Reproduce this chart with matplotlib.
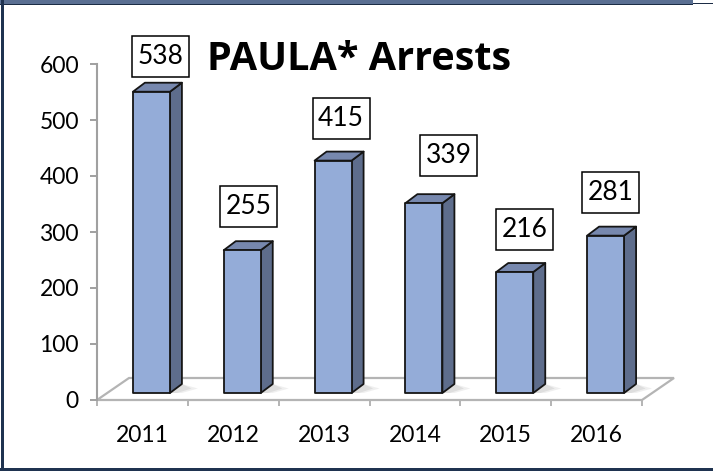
import matplotlib
matplotlib.use("Agg")
import matplotlib.pyplot as plt
from matplotlib.patches import Polygon, Rectangle

# ---- data ----
years = ["2011", "2012", "2013", "2014", "2015", "2016"]
arrests = [538, 255, 415, 339, 216, 281]
y_ticks = [0, 100, 200, 300, 400, 500, 600]
title = "PAULA* Arrests"

# ---- layout / style (pixels) ----
W, H, DPI = 713, 471, 100
FONT = ["Lato", "DejaVu Sans"]
FRONT, SIDE, TOP = "#94acd8", "#5e6d8c", "#7788ae"
EDGE = "#151515"
GRAY = "#a0a0a0"
floor_depth = (32, 22)     # px, floor back offset
bar_front = (9, 7)         # px, bar front-face offset from front plane
bar_depth = (12, 9)        # px, bar depth
bar_w_px = 37
box_w_px, box_h_px = 57, 41
label_nudge = [(9, 6), (6, 14), (8, 13), (25, 18), (10, 13), (5, 14)]  # (dx, gap) px

plt.rcParams["font.family"] = FONT
fig = plt.figure(figsize=(W / DPI, H / DPI), dpi=DPI)
fig.patch.set_facecolor("white")

ax_left, ax_right, ax_bot, ax_top = 97, 642, 400, 64
ax = fig.add_axes([ax_left / W, (H - ax_bot) / H, (ax_right - ax_left) / W, (ax_bot - ax_top) / H])
ax.set_xlim(-0.5, len(years) - 0.5)
ax.set_ylim(0, 600)
ax.patch.set_alpha(0)

# pixel -> data scale factors from the axes transform
p0 = ax.transData.transform((0, 0))
p1 = ax.transData.transform((1, 1))
sx, sy = p1[0] - p0[0], p1[1] - p0[1]
def d(px, py):
    return px / sx, py / sy

# floor
fdx, fdy = d(*floor_depth)
x0, x1 = -0.5, len(years) - 0.5
floor = Polygon([(x0, 0), (x1, 0), (x1 + fdx, fdy), (x0 + fdx, fdy)], closed=True,
                facecolor="white", edgecolor="#b4b4b4", lw=1.6, clip_on=False, zorder=1,
                joinstyle="miter")
ax.add_patch(floor)

fx, fy = d(*bar_front)
bx, by = d(*bar_depth)
hw = d(bar_w_px, 0)[0] / 2
bw_d, bh_d = d(box_w_px, box_h_px)

for i, v in enumerate(arrests):
    xl, xr = i - hw + fx, i + hw + fx
    yb, yt = fy, v + fy
    # soft shadow on floor
    for k, a in ((1.0, 0.15), (0.6, 0.2)):
        sh = Polygon([(xr, yb), (xr + bx, yb + by), (xr + bx + d(16 * k, 0)[0], yb + by * 0.5),
                      (xr + d(12 * k, 0)[0], yb)], closed=True,
                     facecolor="#9a9a9a", edgecolor="none", alpha=a, clip_on=False, zorder=2)
        ax.add_patch(sh)
    side = Polygon([(xr, yb), (xr + bx, yb + by), (xr + bx, yt + by), (xr, yt)], closed=True,
                   facecolor=SIDE, edgecolor=EDGE, lw=1.3, clip_on=False, zorder=3, joinstyle="round")
    top = Polygon([(xl, yt), (xr, yt), (xr + bx, yt + by), (xl + bx, yt + by)], closed=True,
                  facecolor=TOP, edgecolor=EDGE, lw=1.3, clip_on=False, zorder=3, joinstyle="round")
    front = Rectangle((xl, yb), xr - xl, v, facecolor=FRONT, edgecolor=EDGE, lw=1.3,
                      clip_on=False, zorder=4, joinstyle="round")
    for p in (side, top, front):
        ax.add_patch(p)
    # label box
    ndx, gap = label_nudge[i]
    cx = i + fx + d(ndx, 0)[0]
    bottom = yt + by + d(0, gap)[1]
    ax.add_patch(Rectangle((cx - bw_d / 2, bottom), bw_d, bh_d, facecolor="white",
                           edgecolor="black", lw=1.1, clip_on=False, zorder=5))
    ax.text(cx, bottom + bh_d / 2, str(v), ha="center", va="center", fontsize=19,
            color="black", zorder=6, clip_on=False)

# axes styling
for s in ("top", "right", "bottom"):
    ax.spines[s].set_visible(False)
ax.spines["left"].set_color(GRAY)
ax.spines["left"].set_linewidth(1.5)
ax.set_yticks(y_ticks)
ax.tick_params(axis="y", length=5, width=1.4, color=GRAY, pad=8, labelsize=16.5)
ax.set_xticks([i - 0.5 for i in range(len(years) + 1)])
ax.set_xticklabels([])
ax.set_xticks(range(len(years)), minor=True)
ax.set_xticklabels(years, minor=True)
ax.tick_params(axis="x", which="major", length=4.5, width=1.4, color="#b4b4b4")
ax.tick_params(axis="x", which="minor", length=0, pad=18, labelsize=16.5)

fig.text(207 / W, (H - 70) / H, title, fontsize=28.5, fontweight="bold",
         family=["Open Sans", "DejaVu Sans"], ha="left", va="baseline", color="black")

# frame decorations
fig.patches.append(Rectangle((0, (H - 4) / H), 693 / W, 4 / H, transform=fig.transFigure,
                             facecolor="#5a6f92", edgecolor="none"))
fig.patches.append(Rectangle((0, (H - 5) / H), 693 / W, 1.5 / H, transform=fig.transFigure,
                             facecolor="#1b2c45", edgecolor="none"))
fig.patches.append(Rectangle((693 / W, (H - 4) / H), 20 / W, 1.5 / H, transform=fig.transFigure,
                             facecolor="#1b2c45", edgecolor="none"))
fig.patches.append(Rectangle((1 / W, 0), 3 / W, 1, transform=fig.transFigure,
                             facecolor="#1f3350", edgecolor="none"))
fig.patches.append(Rectangle((0, 0), 1, 3.5 / H, transform=fig.transFigure,
                             facecolor="#1f3350", edgecolor="none"))

fig.savefig("out.png", dpi=DPI)
